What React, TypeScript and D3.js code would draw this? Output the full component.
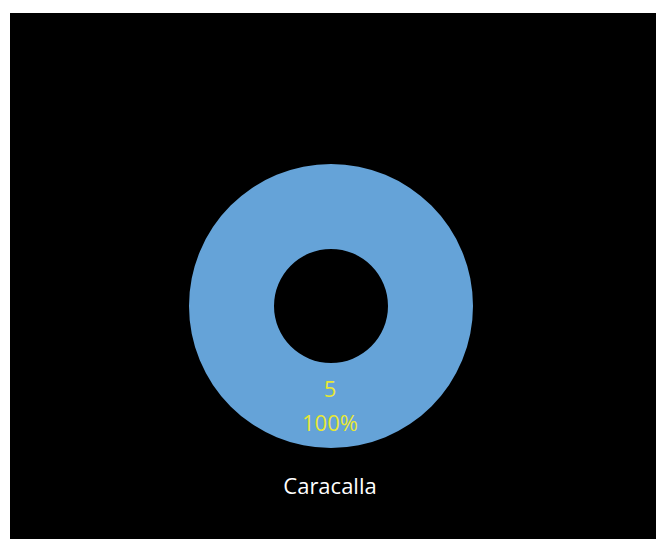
import React from "react";
import * as d3 from "d3";

const categories = ["Caracalla"];
const values = [5];

const W = 656;
const H = 539;

export default function App() {
  const cx = 331;
  const cy = 306;
  const outerR = 142;
  const innerR = 57;
  const total = d3.sum(values);
  const pie = d3.pie<number>().sort(null).value((d) => d);
  const arcs = pie(values);
  const arcGen = d3.arc<d3.PieArcDatum<number>>().innerRadius(innerR).outerRadius(outerR);
  const fmtPct = d3.format(".0%");

  return (
    <svg
      width={W}
      height={H}
      style={{ position: "absolute", left: 0, top: 0, background: "#fff" }}
    >
      <rect x={10} y={13} width={W - 10} height={H - 13} fill="#000" />
      <g transform={`translate(${cx},${cy})`}>
        {arcs.map((a, i) => (
          <path key={i} d={arcGen(a) || ""} fill="#65A3D8" />
        ))}
        {arcs.map((a, i) => {
          // label placed in the ring below center (single full slice)
          const ly = (innerR + outerR) / 2 + 8.5;
          return (
            <g key={"l" + i} fontFamily="'Open Sans', sans-serif" fontSize={22} fill="#E8E833" textAnchor="middle">
              <text x={-1} y={ly - 17}>{values[i]}</text>
              <text x={-1} y={ly + 17}>{fmtPct(values[i] / total)}</text>
            </g>
          );
        })}
      </g>
      <text
        x={330}
        y={494}
        textAnchor="middle"
        fontFamily="'Open Sans', sans-serif"
        fontSize={22}
        fill="#fff"
      >
        {categories[0]}
      </text>
    </svg>
  );
}
